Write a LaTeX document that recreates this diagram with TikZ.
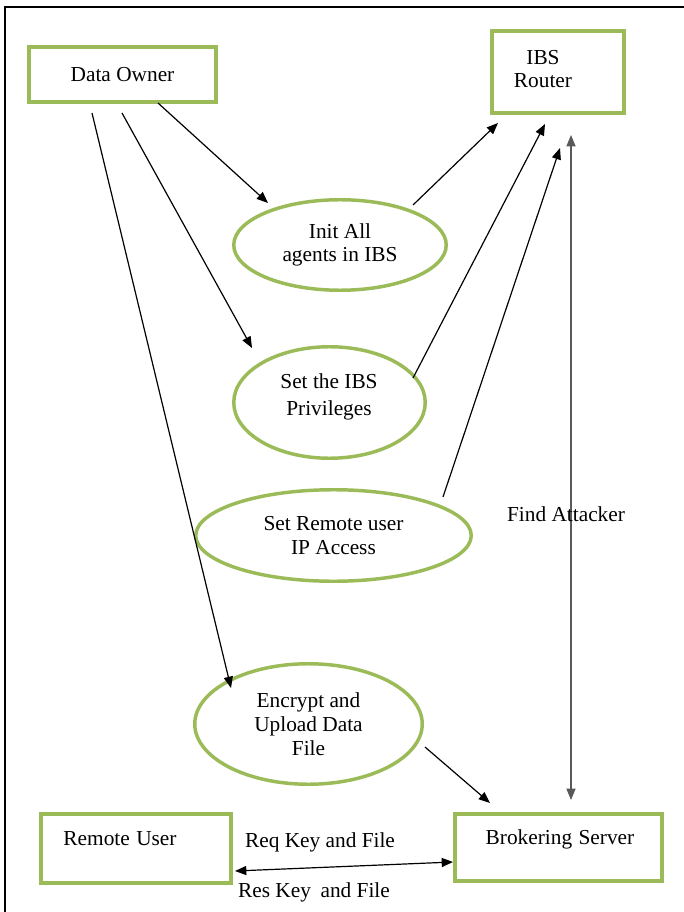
\documentclass[tikz,border=0pt]{standalone}
\usepackage{fontspec}
\setmainfont{Liberation Serif}
\usetikzlibrary{calc,arrows.meta,shapes.geometric}
\definecolor{leafgreen}{RGB}{155,187,89}
\def\pxu{0.75pt}
\begin{document}
\begin{tikzpicture}[x=0.75pt,y=-0.75pt,
  every node/.style={font=\fontsize{16pt}{17.8pt}\selectfont, align=center, inner sep=0pt},
  greenbox/.style={draw=leafgreen, line width=3pt, rectangle},
  greenoval/.style={draw=leafgreen, line width=2.6pt, ellipse},
  flow/.style={black, line width=0.9pt, -{Triangle[length=8.5pt,width=6.8pt]}},
  twoway/.style={line width=0.9pt, {Triangle[length=8.5pt,width=6.8pt]}-{Triangle[length=8.5pt,width=6.8pt]}},
]
\useasboundingbox (0,0) rectangle (683,912);

% page frame
\draw[line width=2pt] (5,940) -- (5,7) -- (700,7);

% actors
\node[greenbox, minimum width=187*\pxu, minimum height=55*\pxu] (owner) at (122.5,74.5) {Data Owner};
\node[greenbox, minimum width=132*\pxu, minimum height=82*\pxu] (router) at (558,72) {};
\node (routertxt) at (543,69) {IBS\\Router};
\node[greenbox, minimum width=190*\pxu, minimum height=69*\pxu] (user) at (136,848.5) {};
\node (usertxt) at (120,839) {Remote\hspace{0.3em}User};
\node[greenbox, minimum width=207*\pxu, minimum height=67*\pxu] (broker) at (558.5,847.5) {};
\node (brokertxt) at (560,839) {Brokering\hspace{0.3em}Server};

% processes
\node[greenoval, minimum width=212.5*\pxu, minimum height=90.5*\pxu] (init) at (340,245) {Init All\\agents in IBS};
\node[greenoval, minimum width=191.5*\pxu, minimum height=111.5*\pxu] (priv) at (329.5,402.5) {};
\node (privtxt) at (329,397) {Set the IBS\\[2pt]Privileges};
\node[greenoval, minimum width=275.5*\pxu, minimum height=91.5*\pxu] (remoteip) at (333.5,535.5) {Set Remote user\\IP Access};
\node[greenoval, minimum width=227.5*\pxu, minimum height=120.5*\pxu] (encrypt) at (308.5,724) {Encrypt and\\Upload Data\\File};

% data owner actions
\draw[flow] ($(owner.center)+(35.5,28.5)$) -- ($(init.center)+(-72,-42)$);
\draw[flow] ($(owner.center)+(-0.5,38.5)$) -- ($(priv.center)+(-77.5,-54.5)$);
\draw[flow] ($(owner.center)+(-30.5,38.5)$) -- ($(encrypt.center)+(-77.5,-36)$);

% reports to the router
\draw[flow] ($(init.center)+(73,-40)$) -- ($(router.center)+(-60,51)$);
\draw[flow] ($(priv.center)+(83.5,-24.5)$) -- ($(router.center)+(-13,52)$);
\draw[flow] ($(remoteip.center)+(109.5,-38.5)$) -- ($(router.center)+(2,76)$);

% router and brokering server
\draw[twoway, draw=black!65] ($(router.center)+(13,63)$) -- ($(broker.center)+(12.5,-47.5)$);
\node (findlbl) at (566,514) {Find Attacker};

\draw[flow] ($(encrypt.center)+(116.5,23)$) -- ($(broker.center)+(-68.5,-44.5)$);

% key and file exchange
\draw[twoway] ($(user.center)+(99,22.5)$) -- ($(broker.center)+(-105.5,14.5)$);
\node (reqlbl) at (320,842) {Req Key and File};
\node (reslbl) at (314,892) {Res Key\hspace{0.2em} and File};
\end{tikzpicture}
\end{document}
